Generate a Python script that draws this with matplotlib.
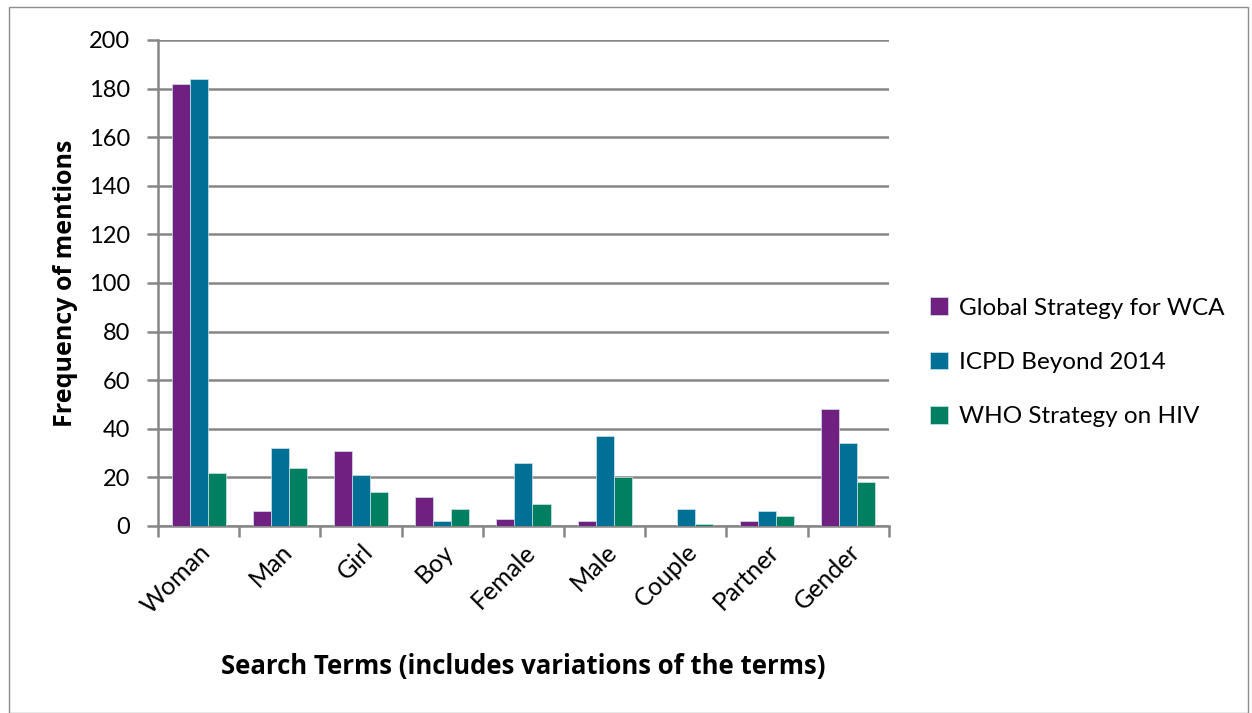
import numpy as np
import matplotlib
matplotlib.use("Agg")
import matplotlib.pyplot as plt
from matplotlib.patches import Rectangle

plt.rcParams["font.family"] = ["Lato", "DejaVu Sans"]

terms = ["Woman", "Man", "Girl", "Boy", "Female", "Male", "Couple", "Partner", "Gender"]
series = ["Global Strategy for WCA", "ICPD Beyond 2014", "WHO Strategy on HIV"]
wca = [182, 6, 31, 12, 3, 2, 0, 2, 48]
icpd = [184, 32, 21, 2, 26, 37, 7, 6, 34]
who = [22, 24, 14, 7, 9, 20, 1, 4, 18]
colors = ["#702080", "#007096", "#008060"]

fig = plt.figure(figsize=(12.52, 7.13), dpi=100)
fig.patches.append(Rectangle((0.007, 0.0), 0.99, 0.99, transform=fig.transFigure,
                             fill=False, edgecolor="#8c8c8c", lw=1))
ax = fig.add_axes([0.1262, 0.2623, 0.5838, 0.6816])

x = np.arange(len(terms))
w = 0.222
for i, (vals, name) in enumerate(zip([wca, icpd, who], series)):
    ax.bar(x + (i - 1) * w, vals, w, color=colors[i], label=name,
           edgecolor="#cfe3ea", lw=0.5, zorder=3)

ax.set_xlim(-0.5, len(terms) - 0.5)
ax.set_ylim(0, 200)
ax.set_yticks(range(0, 201, 20))
ax.yaxis.grid(True, color="#878787", lw=1.8, zorder=0)
ax.set_axisbelow(True)

ax.set_xticks(x)
ax.set_xticklabels(terms, rotation=45, ha="right", rotation_mode="anchor", fontsize=18)
ax.tick_params(axis="x", length=0, pad=10)
ax.set_xticks(np.arange(-0.5, len(terms)), minor=True)
ax.tick_params(axis="x", which="minor", length=8, width=1.8, color="#878787")
ax.tick_params(axis="y", length=8, width=1.8, color="#878787", labelsize=17, pad=12)

for s in ["top", "right"]:
    ax.spines[s].set_visible(False)
for s in ["left", "bottom"]:
    ax.spines[s].set_color("#878787")
    ax.spines[s].set_linewidth(1.8)

ax.set_ylabel("Frequency of mentions", fontsize=18, fontweight="bold",
              family=["Open Sans", "DejaVu Sans"], labelpad=8)
fig.text(0.418, 0.055, "Search Terms (includes variations of the terms)",
         ha="center", fontsize=18.5, fontweight="bold",
         family=["Open Sans", "DejaVu Sans"])

fig.legend(loc="center left", bbox_to_anchor=(0.725, 0.492), frameon=False,
           fontsize=17.5, handlelength=0.75, handleheight=0.75, handletextpad=0.45,
           labelspacing=1.35)

fig.savefig("out.png", dpi=100)
